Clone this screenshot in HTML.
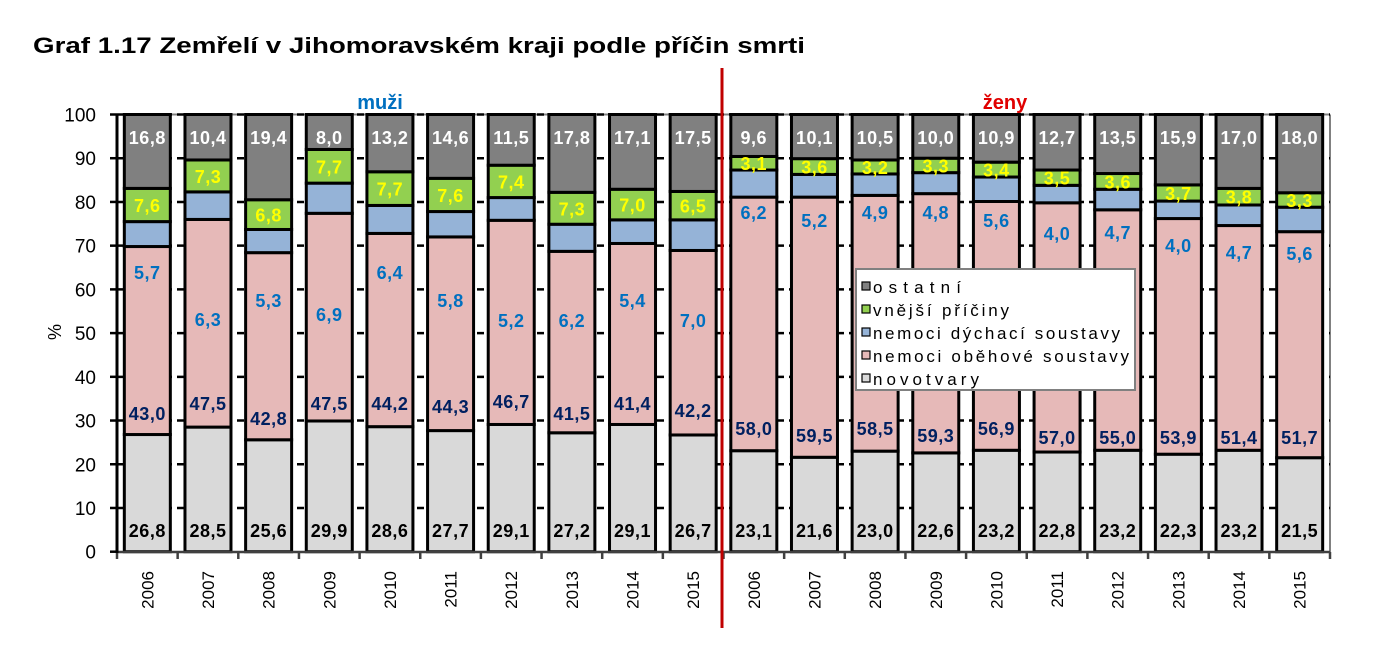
<!DOCTYPE html>
<html><head><meta charset="utf-8"><style>
body{margin:0;background:#fff}
svg text{font-family:"Liberation Sans",Arial,sans-serif}
</style></head><body>
<svg id="s" width="1374" height="658" viewBox="0 0 1374 658" xmlns="http://www.w3.org/2000/svg"></svg>
<script>
const s=document.getElementById('s');let h='';
const Y=v=>551.7-4.372*v;
h+='<text x="33" y="53" font-size="22" font-weight="bold" textLength="772" lengthAdjust="spacingAndGlyphs">Graf 1.17 Zemřelí v Jihomoravském kraji podle příčin smrti</text>';
h+='<text x="380" y="109" font-size="20" font-weight="bold" fill="#0070C0" text-anchor="middle">muži</text>';
h+='<text x="1005" y="109" font-size="20" font-weight="bold" fill="#E00000" text-anchor="middle">ženy</text>';
h+='<line x1="117" y1="114.5" x2="1330" y2="114.5" stroke="#808080" stroke-width="2"/>';
h+='<line x1="1330" y1="114.5" x2="1330" y2="552" stroke="#808080" stroke-width="2"/>';
for(let v=10;v<=100;v+=10){h+=`<line x1="117" y1="${Y(v)}" x2="1330" y2="${Y(v)}" stroke="#000" stroke-width="2.5" stroke-dasharray="7,5"/>`;}
for(let v=0;v<=100;v+=10){h+=`<line x1="110" y1="${Y(v)}" x2="117" y2="${Y(v)}" stroke="#000" stroke-width="2.5"/><text x="96" y="${Y(v)+7}" font-size="19" text-anchor="end">${v}</text>`;}
h+='<text x="0" y="0" font-size="18" transform="translate(61,332) rotate(-90)" text-anchor="middle">%</text>';
const D=[[26.8,43.0,5.7,7.6,16.8],[28.5,47.5,6.3,7.3,10.4],[25.6,42.8,5.3,6.8,19.4],[29.9,47.5,6.9,7.7,8.0],[28.6,44.2,6.4,7.7,13.2],[27.7,44.3,5.8,7.6,14.6],[29.1,46.7,5.2,7.4,11.5],[27.2,41.5,6.2,7.3,17.8],[29.1,41.4,5.4,7.0,17.1],[26.7,42.2,7.0,6.5,17.5],
[23.1,58.0,6.2,3.1,9.6],[21.6,59.5,5.2,3.6,10.1],[23.0,58.5,4.9,3.2,10.5],[22.6,59.3,4.8,3.3,10.0],[23.2,56.9,5.6,3.4,10.9],[22.8,57.0,4.0,3.5,12.7],[23.2,55.0,4.7,3.6,13.5],[22.3,53.9,4.0,3.7,15.9],[23.2,51.4,4.7,3.8,17.0],[21.5,51.7,5.6,3.3,18.0]];
const dy=[272,319,300,314,272,300,320,320,300,320,212,220,212,212,220,233,232,245,252,253];
const ob=[413,403,418,403,403,406,401,413,403,410,428,435,428,435,428,437,437,437,437,437];
const col=['#D9D9D9','#E6B9B8','#95B3D7','#92D050','#808080'];
const f=v=>v.toFixed(1).replace('.',',');
const w=60.65;
D.forEach((d,i)=>{
 const cx=117+w*(i+0.5),x=cx-23;
 let c=0;const b=[];
 d.forEach((v,k)=>{let t=(k==4)?100:c+v;b.push([c,t]);h+=`<rect x="${x}" y="${Y(t)}" width="46" height="${Y(c)-Y(t)}" fill="${col[k]}" stroke="#000" stroke-width="3"/>`;c=t;});
 const T=(y,txt,fill)=>h+=`<text x="${cx}" y="${y}" font-size="18" font-weight="bold" fill="${fill}" text-anchor="middle" letter-spacing="0.5">${txt}</text>`;
 T(537,f(d[0]),'#000');T(ob[i]+7,f(d[1]),'#002060');T(dy[i]+7,f(d[2]),'#0070C0');
 T((Y(b[3][0])+Y(b[3][1]))/2+7,f(d[3]),'#FFFF00');T(144,f(d[4]),'#fff');
 h+=`<line x1="${117+w*i}" y1="552" x2="${117+w*i}" y2="559" stroke="#404040" stroke-width="2.5"/>`;
 h+=`<text font-size="17" text-anchor="end" transform="translate(${cx+6},571) rotate(-90)">${2006+(i%10)}</text>`;
});
h+='<line x1="117" y1="552" x2="1330" y2="552" stroke="#404040" stroke-width="2.5"/><line x1="1330" y1="552" x2="1330" y2="559" stroke="#404040" stroke-width="2.5"/>';
h+='<line x1="117" y1="114" x2="117" y2="553" stroke="#000" stroke-width="3"/>';
h+='<line x1="722" y1="68" x2="722" y2="628" stroke="#C00000" stroke-width="3"/>';
h+='<rect x="856" y="269" width="279" height="121" fill="#fff" stroke="#808080" stroke-width="2"/>';
const L=[['ostatní','#808080',88],['vnější příčiny','#92D050',136],['nemoci dýchací soustavy','#95B3D7',247],['nemoci oběhové soustavy','#E6B9B8',256],['novotvary','#D9D9D9',106]];
L.forEach((l,k)=>{const y=287+k*23;h+=`<rect x="862" y="${y-5}" width="8" height="8" fill="${l[1]}" stroke="#000" stroke-width="1.2"/><text x="873" y="${y+6}" font-size="17" textLength="${l[2]}" lengthAdjust="spacing">${l[0]}</text>`;});
s.innerHTML=h;
</script>
</body></html>
